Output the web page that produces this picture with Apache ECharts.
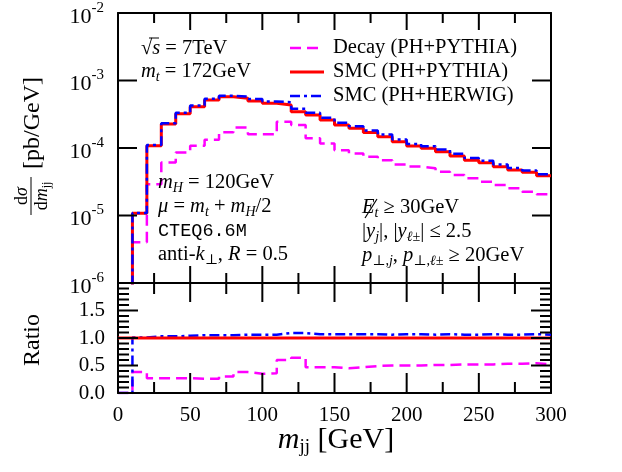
<!DOCTYPE html>
<html><head><meta charset="utf-8">
<script src="https://cdn.jsdelivr.net/npm/echarts@6/dist/echarts.min.js"></script>
<style>html,body{margin:0;padding:0;background:#fff}#c{width:622px;height:472px}</style>
</head><body><div id="c"></div>
<script>
// ---- data (10 GeV bins, value per bin; first bin 0-10 GeV is empty, below axis) ----
const binEdges = [0,10,20,30,40,50,60,70,80,90,100,110,120,130,140,150,160,170,180,190,200,210,220,230,240,250,260,270,280,290,300];
const smcPythia = [1e-8,1.08e-5,1.08e-4,2.27e-4,3.22e-4,4.09e-4,5.14e-4,5.75e-4,5.44e-4,4.97e-4,4.59e-4,4.33e-4,3.45e-4,3.08e-4,2.60e-4,2.19e-4,1.96e-4,1.69e-4,1.47e-4,1.24e-4,1.07e-4,9.9e-5,8.8e-5,7.6e-5,6.6e-5,6.05e-5,5.28e-5,4.72e-5,4.36e-5,3.89e-5];
const smcHerwig = [1e-8,1.09e-5,1.11e-4,2.33e-4,3.33e-4,4.25e-4,5.35e-4,5.95e-4,5.80e-4,5.30e-4,4.90e-4,4.75e-4,3.80e-4,3.32e-4,2.80e-4,2.36e-4,2.10e-4,1.82e-4,1.58e-4,1.34e-4,1.15e-4,1.06e-4,9.5e-5,8.2e-5,7.1e-5,6.5e-5,5.7e-5,5.05e-5,4.65e-5,4.1e-5];
const decayPythia = [1e-8,4.0e-6,2.9e-5,6.1e-5,8.6e-5,1.08e-4,1.32e-4,1.71e-4,2.01e-4,1.60e-4,1.60e-4,2.45e-4,2.19e-4,1.39e-4,1.17e-4,9.3e-5,8.3e-5,7.4e-5,6.6e-5,5.7e-5,5.3e-5,5.0e-5,4.45e-5,3.98e-5,3.56e-5,3.17e-5,2.83e-5,2.53e-5,2.25e-5,2.06e-5];
const ratioPythia = [1,1,1,1,1,1,1,1,1,1,1,1,1,1,1,1,1,1,1,1,1,1,1,1,1,1,1,1,1,1];
const ratioHerwig = [0,1.01,1.03,1.03,1.04,1.05,1.05,1.05,1.06,1.06,1.06,1.09,1.09,1.07,1.07,1.07,1.07,1.07,1.06,1.07,1.07,1.06,1.07,1.06,1.06,1.07,1.06,1.06,1.07,1.06];
const ratioDecay = [0,0.38,0.27,0.27,0.27,0.26,0.26,0.30,0.38,0.35,0.36,0.60,0.64,0.47,0.47,0.45,0.47,0.49,0.50,0.50,0.50,0.51,0.51,0.52,0.52,0.52,0.53,0.53,0.54,0.52];
const seriesNames = ['Decay (PH+PYTHIA)','SMC (PH+PYTHIA)','SMC (PH+HERWIG)'];
// tick values and labels
const xTickValues = [0,50,100,150,200,250,300];
const xMinorValues = [25,75,125,175,225,275];
const xTickLabels = ['0','50','100','150','200','250','300'];
const logTickValues = [1e-6,1e-5,1e-4,1e-3,1e-2];
const topTickExponents = ['-6','-5','-4','-3','-2'];
const ratioTickValues = [0,0.5,1,1.5,2];
const ratioMinorValues = [0.1,0.2,0.3,0.4,0.6,0.7,0.8,0.9,1.1,1.2,1.3,1.4,1.6,1.7,1.8,1.9];
const ratioTickLabels = ['0.0','0.5','1.0','1.5',''];

// ---- styles ----
const F = '"Liberation Serif","DejaVu Serif",serif';
const BLACK = '#000';
const magenta = '#ff00ff', red = '#ff0000', blue = '#0000ff';
const dashMag = [11,6], dashBlue = [10,4,3,4];
const colors = [magenta, red, blue];
const dashes = [dashMag, null, dashBlue];
const widths = [2.5, 3, 2.5];

function steps(vals){
  const d = vals.map((v,i)=>[binEdges[i], v]);
  d.push([binEdges[vals.length], vals[vals.length-1]]);
  return d;
}

const FS = 20.5, FSS = 14;
const richG = {
  t:{fontFamily:F,fontSize:FS,fill:BLACK},
  i:{fontFamily:F,fontSize:FS,fontStyle:'italic',fill:BLACK},
  s:{fontFamily:F,fontSize:FSS,fontStyle:'italic',fill:BLACK,padding:[11,0,0,0]},
  sn:{fontFamily:F,fontSize:FSS,fill:BLACK,padding:[11,0,0,0]},
  m:{fontFamily:'"Liberation Mono","DejaVu Sans Mono",monospace',fontSize:18.5,fill:BLACK}
};
function txt(x,y,text,rich,font,align){
  return {type:'text',x:x,y:y,z:100,style:{text:text,rich:rich||richG,font:font||(FS+'px '+F),fill:BLACK,
    textAlign:align||'left',textVerticalAlign:'middle',align:align||'left',verticalAlign:'middle'}};
}
function seg(x1,y1,x2,y2,color,w,dash){
  const st = {stroke:color,lineWidth:w};
  if (dash) st.lineDash = dash;
  return {type:'line',z:100,shape:{x1:x1,y1:y1,x2:x2,y2:y2},style:st};
}
const axLine = ()=>({show:true,onZero:false,lineStyle:{color:'#000',width:2}});

const xAx = (grid,pos,lab)=>({
  type:'value',gridIndex:grid,position:pos,min:0,max:300,interval:50,
  axisLine:axLine(), axisTick:{show:false}, minorTick:{show:false},
  splitLine:{show:false},
  axisLabel:lab?{show:true,margin:12,fontFamily:F,fontSize:21,color:BLACK,
    formatter:(v)=>xTickLabels[xTickValues.indexOf(v)]}:{show:false}
});
const yLog = (pos,lab)=>({
  type:'log',gridIndex:0,position:pos,min:1e-6,max:1e-2,
  axisLine:axLine(), axisTick:{show:false},
  splitLine:{show:false},
  axisLabel:lab?{show:true,margin:14,color:BLACK,
    formatter:(v)=>'{b|10}{sup|'+topTickExponents[Math.round(Math.log10(v))+6]+'}',
    rich:{b:{fontFamily:F,fontSize:22,color:BLACK,padding:[8,0,0,0]},
          sup:{fontFamily:F,fontSize:15,color:BLACK,padding:[0,0,10,0]}}}:{show:false}
});
const yRatio = (pos,lab)=>({
  type:'value',gridIndex:1,position:pos,min:0,max:2,interval:0.5,
  axisLine:axLine(), axisTick:{show:false}, minorTick:{show:false},
  splitLine:{show:false},
  axisLabel:lab?{show:true,margin:13,fontFamily:F,fontSize:21,color:BLACK,
    formatter:(v)=>ratioTickLabels[Math.round(v/0.5)]}:{show:false}
});

const topSeries = [decayPythia, smcPythia, smcHerwig];
const ratioSeries = [ratioDecay, ratioPythia, ratioHerwig];
const series = [];
topSeries.forEach((vals,k)=>series.push({name:seriesNames[k],type:'line',step:'end',xAxisIndex:0,yAxisIndex:0,
  symbol:'none',data:steps(vals),lineStyle:{color:colors[k],width:widths[k],type:dashes[k]||'solid'},
  itemStyle:{color:colors[k]}}));
[0,2,1].forEach((k)=>series.push({name:seriesNames[k],type:'line',step:'end',xAxisIndex:3,yAxisIndex:2,
  symbol:'none',data:steps(ratioSeries[k]),lineStyle:{color:colors[k],width:widths[k],type:dashes[k]||'solid'},
  itemStyle:{color:colors[k]}}));

const legendY = [48,72,96];
const staticGraphics = [];
seriesNames.forEach((n,k)=>{
  staticGraphics.push(seg(290,legendY[k],324,legendY[k],colors[k],widths[k],dashes[k]));
  staticGraphics.push(txt(333,legendY[k],n,null,FS+'px '+F));
});
staticGraphics.push(
  txt(141,49,'{t|√}{i|s}{t| = 7TeV}'),
  seg(149,38,159,38,BLACK,1),
  txt(141,72,'{i|m}{s|t}{t| = 172GeV}'),
  txt(158,183,'{i|m}{s|H}{t| = 120GeV}'),
  txt(158,207,'{i|μ}{t| = }{i|m}{s|t}{t| + }{i|m}{s|H}{t|/2}'),
  txt(158,231,'{m|CTEQ6.6M}'),
  txt(158,255,'{t|anti-}{i|k}{sn|⊥}{t|, }{i|R}{t| = 0.5}'),
  txt(362,208,'{i|E}{s|t}{t| ≥ 30GeV}'),
  seg(365,218,377,199,BLACK,1.2),
  txt(362,232,'{t||}{i|y}{s|j}{t||, |}{i|y}{s|ℓ±}{t|| ≤ 2.5}'),
  txt(362,256,'{i|p}{sn|⊥,}{s|j}{t|, }{i|p}{sn|⊥,}{s|ℓ±}{t| ≥ 20GeV}'),
  txt(336,440,'{I|m}{S|jj}{T| [GeV]}',{
    I:{fontFamily:F,fontSize:30,fontStyle:'italic',fill:BLACK},
    T:{fontFamily:F,fontSize:30,fill:BLACK},
    S:{fontFamily:F,fontSize:19,fill:BLACK,padding:[14,0,0,0]}},'30px '+F,'center'),
  {type:'text',x:33,y:340,rotation:Math.PI/2,z:100,
   style:{text:'Ratio',font:'24px '+F,fill:BLACK,textAlign:'center',textVerticalAlign:'middle',align:'center',verticalAlign:'middle'}},
  {type:'group',x:33,y:175,rotation:Math.PI/2,z:100,children:[
    {type:'text',x:-21,y:-11,style:{text:'{t|d}{i|σ}',rich:{t:{fontFamily:F,fontSize:18,fill:BLACK},i:{fontFamily:F,fontSize:18,fontStyle:'italic',fill:BLACK}},
      textAlign:'center',textVerticalAlign:'middle',align:'center',verticalAlign:'middle'}},
    {type:'line',shape:{x1:-40,y1:-2,x2:-2,y2:-2},style:{stroke:BLACK,lineWidth:1}},
    {type:'text',x:-21,y:9,style:{text:'{t|d}{i|m}{s|jj}',rich:{t:{fontFamily:F,fontSize:18,fill:BLACK},i:{fontFamily:F,fontSize:18,fontStyle:'italic',fill:BLACK},
      s:{fontFamily:F,fontSize:12,fill:BLACK,padding:[9,0,0,0]}},
      textAlign:'center',textVerticalAlign:'middle',align:'center',verticalAlign:'middle'}},
    {type:'text',x:6,y:0,style:{text:'[pb/GeV]',font:'24px '+F,fill:BLACK,textAlign:'left',textVerticalAlign:'middle',align:'left',verticalAlign:'middle'}}
  ]}
);

const option = {
  animation:false,
  grid:[
    {left:118,right:71,top:13,height:270},
    {left:118,right:71,top:283,height:110}
  ],
  xAxis:[ xAx(0,'bottom',false), xAx(0,'top',false), xAx(1,'top',false), xAx(1,'bottom',true) ],
  yAxis:[ yLog('left',true), yLog('right',false), yRatio('left',true), yRatio('right',false) ],
  series: series
};
const chart = echarts.init(document.getElementById('c'));
chart.setOption(option);

// ---- inward tick marks, placed through the chart's own axis scales ----
const px = (dim, idx, v) => chart.convertToPixel(dim==='x'?{xAxisIndex:idx}:{yAxisIndex:idx}, v);
const tickMarks = [];
const vt = (x,y1,y2)=>tickMarks.push({type:'line',z:50,shape:{x1:x,y1:y1,x2:x,y2:y2},style:{stroke:'#000',lineWidth:2}});
const ht = (x1,x2,y)=>tickMarks.push({type:'line',z:50,shape:{x1:x1,y1:y,x2:x2,y2:y},style:{stroke:'#000',lineWidth:2}});
const xL = px('x',0,0), xR = px('x',0,300);
const yTop = px('y',0,1e-2), yMid = px('y',0,1e-6), yBot = px('y',2,0), yMid2 = px('y',2,2);
xTickValues.forEach(v=>{ const x = px('x',0,v); vt(x,yTop,yTop+17); vt(x,yMid,yMid-17); vt(x,yMid2,yMid2+19); vt(x,yBot,yBot-20); });
xMinorValues.forEach(v=>{ const x = px('x',0,v); vt(x,yTop,yTop+10); vt(x,yMid,yMid-10); vt(x,yMid2,yMid2+11); vt(x,yBot,yBot-11); });
logTickValues.forEach(v=>{ const y = px('y',0,v); ht(xL,xL+19,y); ht(xR,xR-19,y); });
ratioTickValues.forEach(v=>{ const y = px('y',2,v); ht(xL,xL+20,y); ht(xR,xR-20,y); });
ratioMinorValues.forEach(v=>{ const y = px('y',2,v); ht(xL,xL+11,y); ht(xR,xR-11,y); });

chart.setOption({graphic: staticGraphics.concat(tickMarks)});
</script></body></html>
